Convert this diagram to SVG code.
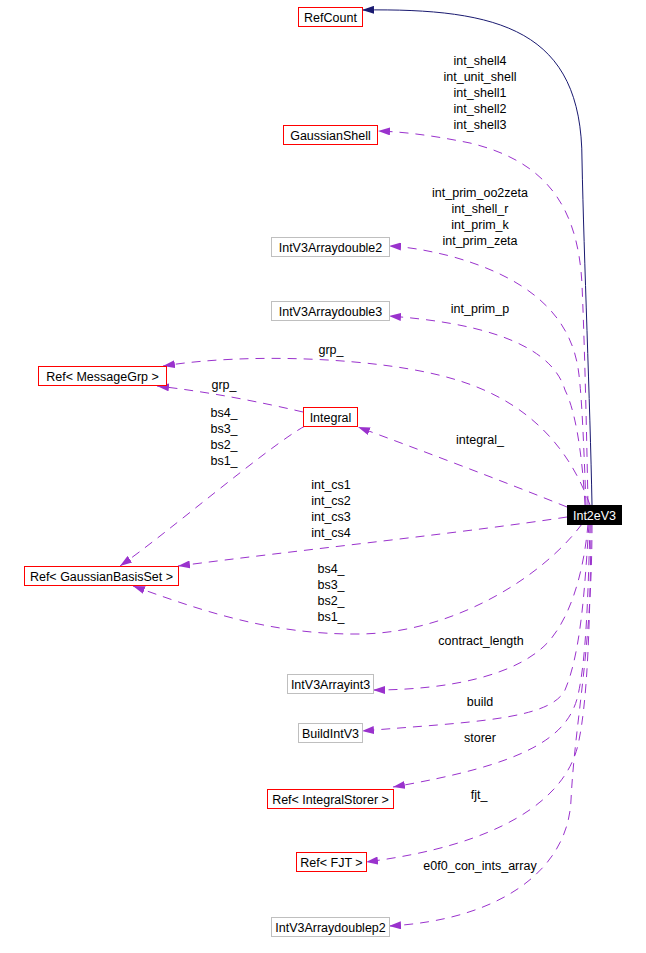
<svg xmlns="http://www.w3.org/2000/svg" width="646" height="953" viewBox="0 0 646 953">
<style>
  text { font-family: "Liberation Sans", Arial, sans-serif; font-size: 12.5px; fill: #000; }
  .n text, text.c { text-anchor: middle; }
  .red rect { fill: #fff; stroke: #ff0000; stroke-width: 1; }
  .gray rect { fill: #fff; stroke: #bfbfbf; stroke-width: 1; }
  .main rect { fill: #000; stroke: #000; stroke-width: 1; }
  .main text { fill: #fff; }
  .e { fill: none; stroke: #9a32cd; stroke-width: 1; stroke-dasharray: 9,7; marker-end: url(#ap); }
  .inh { fill: none; stroke: #191970; stroke-width: 1; marker-end: url(#an); }
</style>
<defs>
  <marker id="ap" viewBox="0 0 12 8" markerWidth="12" markerHeight="8" markerUnits="userSpaceOnUse" refX="12" refY="4" orient="auto">
    <path d="M0,0 L12,4 L0,8 z" fill="#9a32cd"/>
  </marker>
  <marker id="an" viewBox="0 0 12 8" markerWidth="12" markerHeight="8" markerUnits="userSpaceOnUse" refX="12" refY="4" orient="auto">
    <path d="M0,0 L12,4 L0,8 z" fill="#191970"/>
  </marker>
</defs>
<rect width="646" height="953" fill="#fff"/>

<g id="connectors">
  <path class="inh" d="M592,505 C590,400 584,260 582,160 C582,30 500,8 362,10"/>
  <path class="e" d="M588,505 C586,400 584,330 582,285 C578,200 540,160 470,143 C440,137 410,132 378,131"/>
  <path class="e" d="M586,505 C584,450 582,400 579,375 C572,310 520,275 450,256 C430,251 410,247 389,246"/>
  <path class="e" d="M585,505 C582,450 575,410 565,390 C550,340 470,322 389,316"/>
  <path class="e" d="M590,505 C570,450 530,400 450,378 C380,358 250,352 163,366"/>
  <path class="e" d="M303,412 C260,402 210,392 157,386"/>
  <path class="e" d="M567,507 C500,480 420,450 358,427"/>
  <path class="e" d="M305,426 C270,445 165,535 120,566"/>
  <path class="e" d="M567,517 C470,532 300,550 178,566"/>
  <path class="e" d="M582,524 C540,580 450,633 360,634 C270,635 200,610 133,586"/>
  <path class="e" d="M588,524 C585,560 575,610 550,640 C520,675 450,690 373,690"/>
  <path class="e" d="M589,524 C585,580 582,650 565,690 C550,720 470,722 362,731"/>
  <path class="e" d="M590,524 C588,600 586,660 578,695 C568,740 520,765 393,787"/>
  <path class="e" d="M591,524 C590,620 588,700 578,745 C565,800 500,845 366,862"/>
  <path class="e" d="M592,524 C592,650 575,720 571,800 C568,870 500,920 389,926"/>
</g>

<g id="labels">
  <text class="c" x="480" y="65">int_shell4</text>
  <text class="c" x="480" y="81">int_unit_shell</text>
  <text class="c" x="480" y="97">int_shell1</text>
  <text class="c" x="480" y="113">int_shell2</text>
  <text class="c" x="480" y="129">int_shell3</text>
  <text class="c" x="480" y="197">int_prim_oo2zeta</text>
  <text class="c" x="480" y="213">int_shell_r</text>
  <text class="c" x="480" y="229">int_prim_k</text>
  <text class="c" x="480" y="245">int_prim_zeta</text>
  <text class="c" x="480" y="313">int_prim_p</text>
  <text class="c" x="331" y="354">grp_</text>
  <text class="c" x="224" y="389">grp_</text>
  <text class="c" x="224" y="417">bs4_</text>
  <text class="c" x="224" y="433">bs3_</text>
  <text class="c" x="224" y="449">bs2_</text>
  <text class="c" x="224" y="465">bs1_</text>
  <text class="c" x="480" y="444">integral_</text>
  <text class="c" x="331" y="489">int_cs1</text>
  <text class="c" x="331" y="505">int_cs2</text>
  <text class="c" x="331" y="521">int_cs3</text>
  <text class="c" x="331" y="537">int_cs4</text>
  <text class="c" x="331" y="573">bs4_</text>
  <text class="c" x="331" y="589">bs3_</text>
  <text class="c" x="331" y="605">bs2_</text>
  <text class="c" x="331" y="621">bs1_</text>
  <text class="c" x="481" y="645">contract_length</text>
  <text class="c" x="480" y="706">build</text>
  <text class="c" x="480" y="742">storer</text>
  <text class="c" x="479" y="799">fjt_</text>
  <text class="c" x="480" y="870">e0f0_con_ints_array</text>
</g>

<g id="RefCount" class="n red"><rect x="298.5" y="7.5" width="64" height="19"/><text x="330.5" y="21.5">RefCount</text></g>
<g id="GaussianShell" class="n red"><rect x="283.5" y="125.5" width="94" height="19"/><text x="330.5" y="139.5">GaussianShell</text></g>
<g id="IntV3Arraydouble2" class="n gray"><rect x="271.5" y="237.5" width="118" height="19"/><text x="330.5" y="251.5">IntV3Arraydouble2</text></g>
<g id="IntV3Arraydouble3" class="n gray"><rect x="271.5" y="301.5" width="118" height="19"/><text x="330.5" y="315.5">IntV3Arraydouble3</text></g>
<g id="RefMessageGrp" class="n red"><rect x="38.5" y="366.5" width="128" height="19"/><text x="102.5" y="380.5">Ref&lt; MessageGrp &gt;</text></g>
<g id="Integral" class="n red"><rect x="303.5" y="407.5" width="54" height="19"/><text x="330.5" y="421.5">Integral</text></g>
<g id="Int2eV3" class="n main"><rect x="567.5" y="505.5" width="54" height="19"/><text x="594.5" y="519.5">Int2eV3</text></g>
<g id="RefGaussianBasisSet" class="n red"><rect x="24.5" y="566.5" width="154" height="19"/><text x="101.5" y="580.5">Ref&lt; GaussianBasisSet &gt;</text></g>
<g id="IntV3Arrayint3" class="n gray"><rect x="287.5" y="674.5" width="86" height="19"/><text x="330.5" y="688.5">IntV3Arrayint3</text></g>
<g id="BuildIntV3" class="n gray"><rect x="298.5" y="723.5" width="64" height="19"/><text x="330.5" y="737.5">BuildIntV3</text></g>
<g id="RefIntegralStorer" class="n red"><rect x="267.5" y="789.5" width="126" height="19"/><text x="330.5" y="803.5">Ref&lt; IntegralStorer &gt;</text></g>
<g id="RefFJT" class="n red"><rect x="296.5" y="852.5" width="70" height="19"/><text x="331.5" y="866.5">Ref&lt; FJT &gt;</text></g>
<g id="IntV3Arraydoublep2" class="n gray"><rect x="271.5" y="917.5" width="118" height="19"/><text x="330.5" y="931.5">IntV3Arraydoublep2</text></g>
</svg>
